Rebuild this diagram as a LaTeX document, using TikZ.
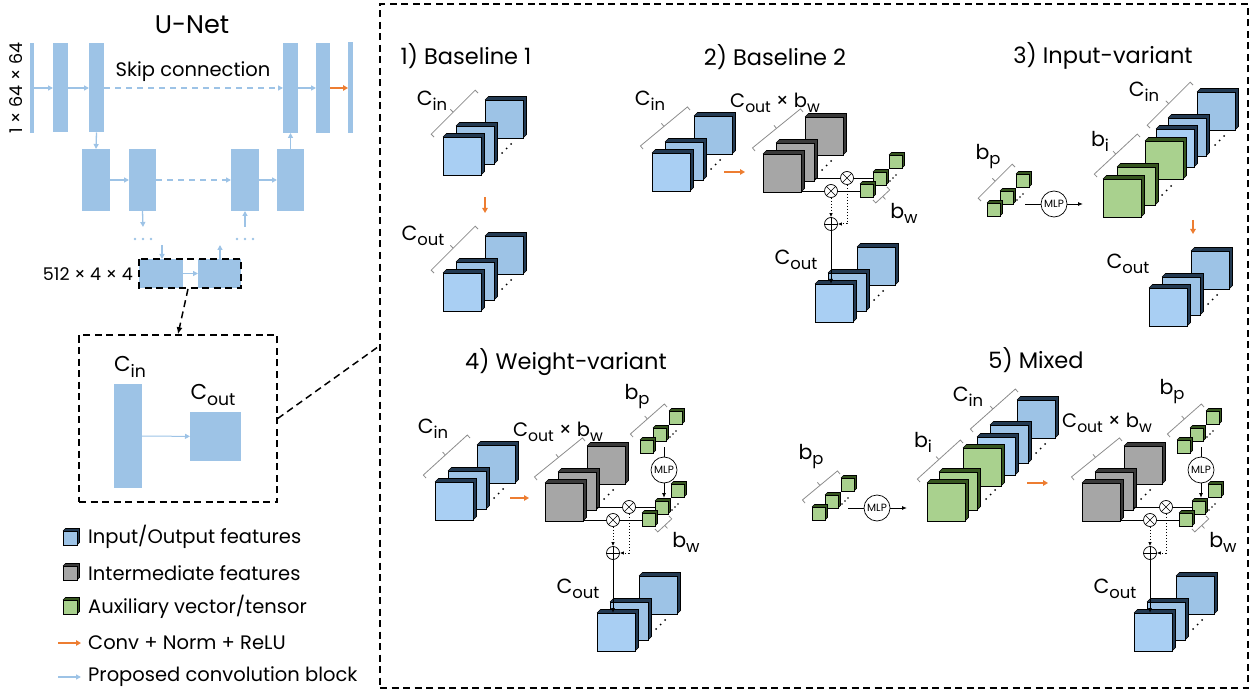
\documentclass[tikz,border=0pt]{standalone}
\usepackage{fontspec}
\setmainfont{Poppins}
\usetikzlibrary{arrows.meta,calc}
\definecolor{bluef}{HTML}{A9CFF3}
\definecolor{blueb}{HTML}{9DC3E6}
\definecolor{bluek}{HTML}{233A52}
\definecolor{grayf}{HTML}{A6A6A6}
\definecolor{grayk}{HTML}{3A3A3A}
\definecolor{greenf}{HTML}{A9D18E}
\definecolor{greenk}{HTML}{36561F}
\definecolor{orng}{HTML}{ED7D31}
\definecolor{ubar}{HTML}{9DC3E6}
\definecolor{brkc}{HTML}{8C8C8C}
\newcommand\cube[6]{%
  \fill[#6] (#1,#2) -- ++(#4,-#4) -- ++(#3,0) -- ++(0,#3) -- ++(-#4,#4) -- cycle;
  \draw[black, line width=0.6pt] (#1,#2) -- ++(#4,-#4) -- ++(#3,0) -- ++(0,#3) -- ++(-#4,#4);
  \filldraw[fill=#5, draw=black, line width=0.8pt] (#1,#2) rectangle ++(#3,#3);}
\newcommand\dts[2]{\fill (#1,#2) circle (1pt) (#1+4.5,#2-4.5) circle (1pt) (#1+9,#2-9) circle (1pt);}
\newcommand\sdts[2]{\fill (#1,#2) circle (0.9pt) (#1+3,#2-3) circle (0.9pt) (#1+6,#2-6) circle (0.9pt);}
\newcommand\stk[6]{%
  \cube{#1+42}{#2-37}{38}{3.5}{#5}{#6}
  \cube{#1+13}{#2-11}{38}{3.5}{#4}{#6}
  \cube{#1}{#2}{38}{3.5}{#3}{#6}
  \dts{#1+59}{#2+16}}
\newcommand\sst[2]{%
  \cube{#1+29}{#2-29}{13}{2.5}{greenf}{greenk}
  \cube{#1+13}{#2-12}{13}{2.5}{greenf}{greenk}
  \cube{#1}{#2}{13}{2.5}{greenf}{greenk}
  \sdts{#1+30}{#2-3}}
\newcommand\brk[2]{%
  \draw[brc] #1 -- ($#1!4pt!90:#2$) -- ($#2!4pt!-90:#1$) -- #2;
  \draw[brc] ($#1!0.5!#2!4pt!90:#2$) -- ($#1!0.5!#2!8pt!90:#2$);}
\newcommand\sm[1]{\raisebox{-0.45ex}{\scalebox{0.8}{#1}}}
\newcommand\otm[2]{\node[opn] (#1) at #2 {};
  \draw[line width=0.6pt] (#1.north east)--(#1.south west) (#1.north west)--(#1.south east);}
\newcommand\opl[2]{\node[opn] (#1) at #2 {};
  \draw[line width=0.6pt] (#1.north)--(#1.south) (#1.east)--(#1.west);}
\tikzset{
 ub/.style={fill=ubar, inner sep=0, outer sep=0},
 barr/.style={draw=ubar, line width=1.3pt, -{Triangle[length=5pt,width=5pt]}},
 bdash/.style={barr, dash pattern=on 6pt off 5pt},
 oarr/.style={draw=orng, line width=1.6pt, -{Triangle[length=5pt,width=5.5pt]}},
 dsh/.style={dash pattern=on 7pt off 4.5pt, line width=1.5pt},
 brc/.style={draw=brkc, line width=0.8pt},
 lab/.style={inner sep=0, font=\fontsize{20.5}{20.5}\selectfont},
 ttl/.style={inner sep=0, font=\fontsize{22.5}{22.5}\selectfont},
 leg/.style={inner sep=0, anchor=west, font=\fontsize{19.5}{19.5}\selectfont},
 mlp/.style={circle, draw, fill=white, line width=0.7pt, minimum size=26pt, inner sep=0, font=\fontsize{10.5}{10.5}\selectfont},
 opn/.style={circle, draw, fill=white, line width=0.7pt, minimum size=13pt, inner sep=0},
 blk/.style={line width=0.9pt, -{Latex[length=5pt,width=4pt]}},
 dtt/.style={dotted, line width=1pt, -{Latex[length=4pt,width=3.5pt]}},
}
% #1: 1 = with MLP branch; #2: position of the C_out x b_w label; #3: position of b_p label
\newcommand\wblk[3]{%
  \stk{0}{0}{grayf}{grayf}{grayf}{grayk}
  \brk{(-8,-3)}{(40,-42)}
  \node[lab, font=\fontsize{19.5}{19.5}\selectfont] (cxb) at #2 {C\sm{out} × b\sm{w}};
  \draw[line width=0.9pt] (51,24) -- (110,24);
  \draw[line width=0.9pt] (38,37) -- (97,37);
  \otm{ot1}{(84,24)}
  \otm{ot2}{(68,37)}
  \sst{97}{30}
  \brk{(124,33)}{(110,46)}
  \node[lab] (bw) at (141,59) {b\sm{w}};
  \opl{op}{(68,70)}
  \draw[dtt] (ot1.south) |- (op.east);
  \draw[dtt] (ot2.south) -- (op.north);
  \stk{52}{130}{bluef}{blueb}{blueb}{bluek}
  \coordinate (cin) at (68,130);
  \draw[blk] (op.south) -- (cin);
  \node[lab] (co) at (33,106) {C\sm{out}};
  \ifnum#1=1
    \sst{95}{-43}
    \brk{(88,-46)}{(122,-76)}
    \node[lab] (bp) at #3 {b\sm{p}};
    \node[mlp] (mlp) at (119,-13) {MLP};
    \coordinate (mt) at (119,-36);
    \coordinate (mb) at (119,15);
    \draw[line width=0.9pt] (mt) -- (mlp.north);
    \draw[blk] (mlp.south) -- (mb);
  \fi}
\begin{document}
\begin{tikzpicture}[x=1pt,y=-1pt]
\useasboundingbox (0,0) rectangle (1255,692);
% ---------------- U-Net ----------------
\node[inner sep=0, font=\fontsize{25.5}{25.5}\selectfont] (unet) at (192,25) {U-Net};
\node[ub, minimum width=4pt, minimum height=90pt] (u1) at (31.5,88) {};
\node[ub, minimum width=15pt, minimum height=89pt] (u2) at (60.5,88) {};
\node[ub, minimum width=15pt, minimum height=89pt] (u3) at (96.5,88) {};
\node[ub, minimum width=15pt, minimum height=90pt] (u4) at (290.5,88) {};
\node[ub, minimum width=14pt, minimum height=90pt] (u5) at (323,88) {};
\node[ub, minimum width=5pt, minimum height=91pt] (u6) at (350.5,88) {};
\node[ub, minimum width=28pt, minimum height=62pt] (la) at (96,180) {};
\node[ub, minimum width=27pt, minimum height=62pt] (lb) at (142.5,180) {};
\node[ub, minimum width=28pt, minimum height=62pt] (lc) at (245,180) {};
\node[ub, minimum width=27pt, minimum height=62pt] (ld) at (290.5,180) {};
\node[ub, minimum width=44pt, minimum height=29pt] (b1) at (161,273.5) {};
\node[ub, minimum width=43pt, minimum height=29pt] (b2) at (219.5,273.5) {};
\draw[barr] (u1) -- (u2);
\draw[barr] (u2) -- (u3);
\draw[bdash] (u3) -- (u4);
\draw[barr] (u4) -- (u5);
\draw[oarr] (u5) -- (u6);
\draw[barr] (u3.south) -- (la.north);
\draw[barr] (la) -- (lb);
\draw[bdash] (lb) -- (lc);
\draw[barr] (lc) -- (ld);
\draw[barr] (ld.north) -- (u4.south);
\coordinate (lbd) at (143,227);
\coordinate (lcd) at (245,227);
\draw[barr] (lb.south) -- (lbd);
\draw[barr] (lcd) -- (lc.south);
\fill[ubar] (135,239) circle (1.3pt) (143,239) circle (1.3pt) (151,239) circle (1.3pt);
\fill[ubar] (237,239) circle (1.3pt) (245,239) circle (1.3pt) (253,239) circle (1.3pt);
\coordinate (d1) at (162,245);
\coordinate (d2) at (220,245);
\draw[barr] (d1) -- (d1 |- b1.north);
\draw[barr] (d2 |- b2.north) -- (d2);
\draw[barr] (b1) -- (b2);
\draw[dsh] (139,259) rectangle (241,288);
\node[inner sep=0, anchor=east, font=\fontsize{17.5}{17.5}\selectfont] (sz2) at (133,274) {512 × 4 × 4};
\node[inner sep=0, rotate=90, font=\fontsize{17.5}{17.5}\selectfont] (sz1) at (16,88) {1 × 64 × 64};
\node[inner sep=0, font=\fontsize{19.5}{19.5}\selectfont] (skip) at (193,72) {Skip connection};
% zoom box
\node[draw, dsh, minimum width=198pt, minimum height=167pt, inner sep=0] (dbox) at (178,418.5) {};
\node[draw, dsh, minimum width=868pt, minimum height=684pt, inner sep=0] (big) at (814,346) {};
\coordinate (bs) at (188,289);
\draw[dsh, -{Latex[length=7pt,width=6pt]}] (bs) -- (dbox.north);
\draw[dsh] (dbox.east) -- (big.west);
\node[ub, minimum width=28pt, minimum height=104pt] (cinb) at (128,436) {};
\node[ub, minimum width=51pt, minimum height=49pt] (coutb) at (215.5,436.5) {};
\draw[barr, line width=1pt] (cinb) -- (coutb);
\node[lab, font=\fontsize{21.5}{21.5}\selectfont] (lcin) at (130,367) {C\sm{in}};
\node[lab, font=\fontsize{21.5}{21.5}\selectfont] (lcout) at (213,395) {C\sm{out}};
% legend
\cube{63}{531}{14}{2.5}{blueb}{bluek}
\cube{63}{566}{14}{2.5}{grayf}{grayk}
\cube{63}{600}{14}{2.5}{greenf}{greenk}
\node[leg] (g1) at (88,537) {Input/Output features};
\node[leg] (g2) at (88,573) {Intermediate features};
\node[leg] (g3) at (88,607) {Auxiliary vector/tensor};
\node[leg] (g4) at (88,643) {Conv + Norm + ReLU};
\node[leg] (g5) at (88,677) {Proposed convolution block};
\coordinate (ga) at (58,643); \coordinate (gb) at (81,643);
\coordinate (gc) at (58,677); \coordinate (gd) at (81,677);
\draw[oarr] (ga) -- (gb);
\draw[barr] (gc) -- (gd);
% ---------------- 1) Baseline 1 ----------------
\node[ttl] (t1) at (466,56) {1) Baseline 1};
\stk{443}{137}{bluef}{blueb}{blueb}{bluek}
\brk{(434,137)}{(478,93)}
\node[lab] (c1) at (432,101) {C\sm{in}};
\coordinate (o1a) at (485,197); \coordinate (o1b) at (485,213);
\draw[oarr] (o1a) -- (o1b);
\stk{443}{273}{bluef}{blueb}{blueb}{bluek}
\brk{(434,273)}{(478,229)}
\node[lab] (c1o) at (423,236) {C\sm{out}};
% ---------------- 2) Baseline 2 ----------------
\node[ttl] (t2) at (775,57) {2) Baseline 2};
\stk{652}{153}{bluef}{blueb}{blueb}{bluek}
\brk{(643,149)}{(690,110)}
\node[lab] (c2) at (650,101) {C\sm{in}};
\coordinate (o2a) at (724,172); \coordinate (o2b) at (745,172);
\draw[oarr] (o2a) -- (o2b);
\begin{scope}[shift={(763,154)}, name prefix=b2-]
\wblk{0}{(12,-51)}{(91,-88)}
\end{scope}
% ---------------- 3) Input-variant ----------------
\node[ttl] (t3) at (1103,56) {3) Input-variant};
\sst{987}{203}
\brk{(981,201)}{(1015,167)}
\node[lab] (bp3) at (988,157) {b\sm{p}};
\node[mlp] (mlp3) at (1054,204) {MLP};
\coordinate (m3a) at (1025,204); \coordinate (m3b) at (1083,204);
\draw[line width=0.9pt] (m3a) -- (mlp3.west);
\draw[blk] (mlp3.east) -- (m3b);
\cube{1197}{92}{38}{3.5}{blueb}{bluek}
\cube{1168}{118}{38}{3.5}{blueb}{bluek}
\cube{1156}{129}{38}{3.5}{bluef}{bluek}
\dts{1215}{145}
\cube{1145}{141}{38}{3.5}{greenf}{greenk}
\cube{1117}{167}{38}{3.5}{greenf}{greenk}
\cube{1103}{179}{38}{3.5}{greenf}{greenk}
\dts{1162}{195}
\brk{(1097,177)}{(1140,137)}
\node[lab] (bi3) at (1100,141) {b\sm{i}};
\brk{(1150,128)}{(1193,85)}
\node[lab] (ci3) at (1144,92) {C\sm{in}};
\coordinate (o3a) at (1193,220); \coordinate (o3b) at (1193,234);
\draw[oarr] (o3a) -- (o3b);
\stk{1149}{288}{bluef}{blueb}{blueb}{bluek}
\node[lab] (co3) at (1128,264) {C\sm{out}};
% ---------------- 4) Weight-variant ----------------
\node[ttl] (t4) at (566,362) {4) Weight−variant};
\stk{435}{482}{bluef}{blueb}{blueb}{bluek}
\brk{(426,478)}{(470,438)}
\node[lab] (c4) at (433,429) {C\sm{in}};
\coordinate (o4a) at (510,498); \coordinate (o4b) at (529,498);
\draw[oarr] (o4a) -- (o4b);
\begin{scope}[shift={(545,483)}, name prefix=w4-]
\wblk{1}{(13,-51)}{(92,-86)}
\end{scope}
% ---------------- 5) Mixed ----------------
\node[ttl] (t5) at (1036,360) {5) Mixed};
\sst{812}{507}
\brk{(805,503)}{(840,474)}
\node[lab] (bp5) at (811,457) {b\sm{p}};
\node[mlp] (mlp5) at (877,508) {MLP};
\coordinate (m5a) at (848,508); \coordinate (m5b) at (907,508);
\draw[line width=0.9pt] (m5a) -- (mlp5.west);
\draw[blk] (mlp5.east) -- (m5b);
\cube{1017}{400}{38}{3.5}{blueb}{bluek}
\cube{990}{425}{38}{3.5}{blueb}{bluek}
\cube{977}{437}{38}{3.5}{bluef}{bluek}
\dts{1036}{453}
\cube{963}{448}{38}{3.5}{greenf}{greenk}
\cube{939}{472}{38}{3.5}{greenf}{greenk}
\cube{927}{483}{38}{3.5}{greenf}{greenk}
\dts{986}{499}
\brk{(920,482)}{(963,443)}
\node[lab] (bi5) at (923,442) {b\sm{i}};
\brk{(973,432)}{(1018,392)}
\node[lab] (ci5) at (968,397) {C\sm{in}};
\coordinate (o5a) at (1027,483); \coordinate (o5b) at (1048,483);
\draw[oarr] (o5a) -- (o5b);
\begin{scope}[shift={(1082,483)}, name prefix=m5-]
\wblk{1}{(25,-60)}{(90,-91)}
\end{scope}
\end{tikzpicture}
\end{document}
